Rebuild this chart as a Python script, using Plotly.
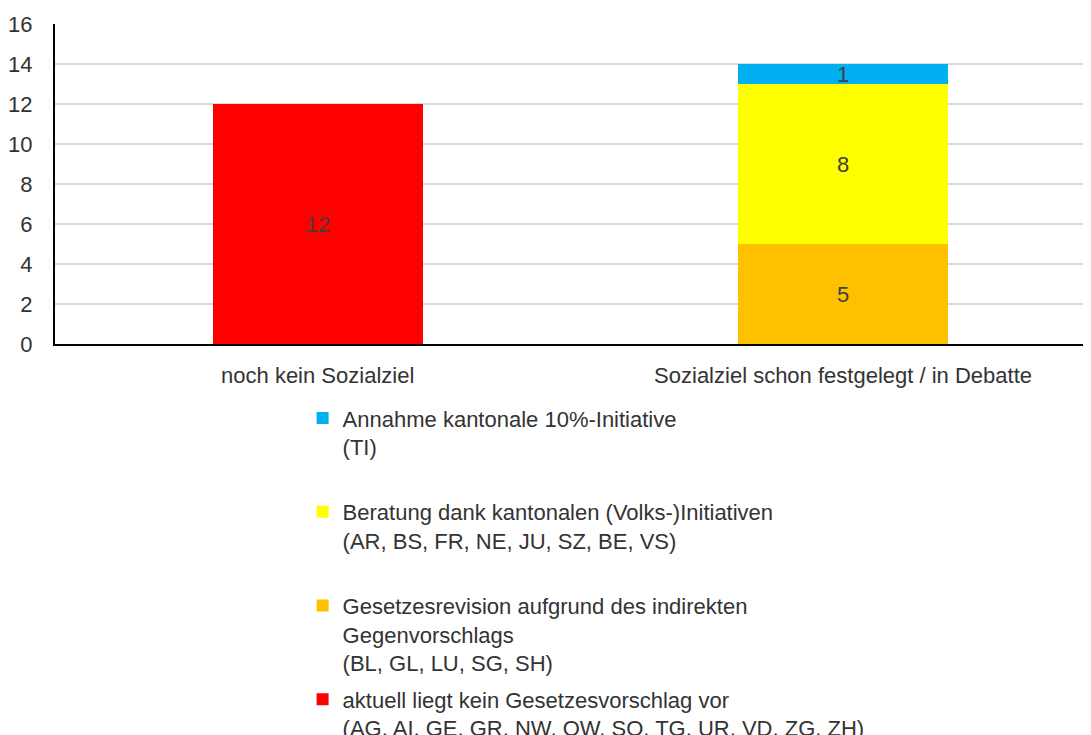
import plotly.graph_objects as go

# categories on the x axis
categories = ["noch kein Sozialziel", "Sozialziel schon festgelegt / in Debatte"]

# series values (None = no segment in that category)
kein_vorschlag = [12, None]
gesetzesrevision = [None, 5]
beratung = [None, 8]
annahme = [None, 1]

series_names = [
    "aktuell liegt kein Gesetzesvorschlag vor<br>(AG, AI, GE, GR, NW, OW, SO, TG, UR, VD, ZG, ZH)",
    "Gesetzesrevision aufgrund des indirekten<br>Gegenvorschlags<br>(BL, GL, LU, SG, SH)",
    "Beratung dank kantonalen (Volks-)Initiativen<br>(AR, BS, FR, NE, JU, SZ, BE, VS)<br> ",
    "Annahme kantonale 10%-Initiative<br>(TI)<br> ",
]
series_colors = ["#FF0000", "#FFC000", "#FFFF00", "#00B0F0"]
series_values = [kein_vorschlag, gesetzesrevision, beratung, annahme]
legend_ranks = [4, 3, 2, 1]

y_ticks = [0, 2, 4, 6, 8, 10, 12, 14, 16]

FONT = "Liberation Sans, Arial, sans-serif"
TEXT = "#333333"

fig = go.Figure()
for i, (name, vals, col) in enumerate(zip(series_names, series_values, series_colors)):
    fig.add_trace(go.Bar(
        x=categories,
        y=vals,
        name=name,
        legendgroup="g%d" % i,
        legendrank=legend_ranks[i],
        marker=dict(color=col, line=dict(width=0)),
        text=[v if v is not None else "" for v in vals],
        textposition="inside",
        insidetextanchor="middle",
        textangle=0,
        constraintext="none",
        textfont=dict(family=FONT, size=22, color="#404040"),
        hoverinfo="x+y+name",
    ))

# the page body has an 8px margin, so the margins are shifted to compensate
fig.update_layout(
    width=1091,
    height=735,
    barmode="stack",
    bargap=0.6,
    plot_bgcolor="white",
    paper_bgcolor="white",
    font=dict(family=FONT, size=22, color=TEXT),
    margin=dict(l=47, r=8, t=16, b=399, autoexpand=False),
    showlegend=True,
    legend=dict(
        orientation="v",
        traceorder="grouped",
        tracegroupgap=5,
        valign="top",
        x=0.239,
        xanchor="left",
        y=-0.166,
        yanchor="top",
        font=dict(family=FONT, size=22, color=TEXT),
        bgcolor="rgba(0,0,0,0)",
    ),
)

fig.update_xaxes(
    type="category",
    range=[-0.5, 1.472],
    showline=True,
    linecolor="black",
    linewidth=2,
    showgrid=False,
    ticks="",
    ticklabelstandoff=11,
    tickfont=dict(family=FONT, size=22, color=TEXT),
)

fig.update_yaxes(
    range=[0, 16],
    tickvals=y_ticks,
    showline=True,
    linecolor="black",
    linewidth=2,
    showgrid=True,
    gridcolor="#D9D9D9",
    gridwidth=2,
    zeroline=False,
    ticks="",
    ticklabelstandoff=16,
    tickfont=dict(family=FONT, size=22, color=TEXT),
)

fig.write_html("out.html")
